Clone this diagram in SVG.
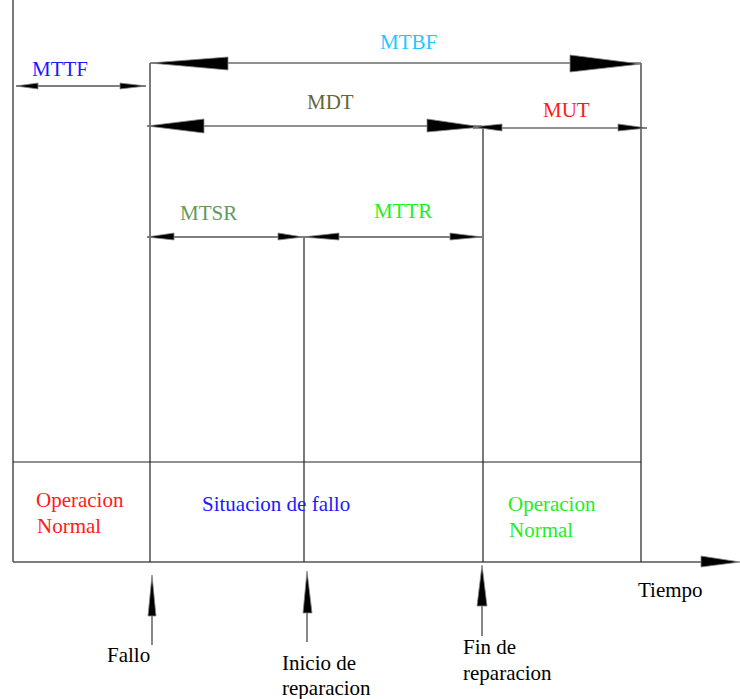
<svg xmlns="http://www.w3.org/2000/svg" width="740" height="699" viewBox="0 0 740 699">
<style>
.ln{stroke:#222;stroke-width:1.2;fill:none}
.gl{stroke:#555;stroke-width:1.4;fill:none}
.ah{fill:#000;stroke:#888;stroke-width:0.8}
</style>
<rect width="740" height="699" fill="#fff"/>
<g id="frame">
<line class="ln" x1="13" y1="0" x2="13" y2="562"/>
<line class="ln" x1="13" y1="462" x2="641" y2="462"/>
<line class="gl" x1="13" y1="562" x2="705" y2="562"/>
<polygon class="ah" points="740,562 701,556 701,567"/>
<line class="ln" x1="150" y1="63" x2="150" y2="562"/>
<line class="ln" x1="304" y1="237" x2="304" y2="562"/>
<line class="ln" x1="483" y1="127" x2="483" y2="562"/>
<line class="ln" x1="641" y1="63" x2="641" y2="562"/>
</g>
<g id="connectors">
<line class="ln" x1="150" y1="63" x2="641" y2="63"/>
<polygon class="ah" points="150,63 228,57 228,70"/>
<polygon class="ah" points="641,64 570,55 570,72"/>
<line class="gl" x1="16" y1="86" x2="146" y2="86"/>
<polygon class="ah" points="16,86 38,83 38,89"/>
<polygon class="ah" points="146,86 120,83 120,89"/>
<line class="ln" x1="147" y1="126" x2="482" y2="126"/>
<polygon class="ah" points="147,126 204,119 204,133"/>
<polygon class="ah" points="482,127 427,119 427,132"/>
<line class="ln" x1="473" y1="128" x2="647" y2="128"/>
<polygon class="ah" points="473,127 502,124 502,131"/>
<polygon class="ah" points="647,128 618,124 618,131"/>
<line class="gl" x1="147" y1="237" x2="303" y2="237"/>
<polygon class="ah" points="147,237 174,233 174,240"/>
<polygon class="ah" points="303,237 278,233 278,240"/>
<line class="gl" x1="303" y1="237" x2="482" y2="237"/>
<polygon class="ah" points="303,237 339,233 339,240"/>
<polygon class="ah" points="482,237 450,233 450,240"/>
<line class="gl" x1="152" y1="616" x2="152" y2="645"/>
<polygon class="ah" points="152,575 148,616 156,616"/>
<line class="gl" x1="307" y1="613" x2="307" y2="642"/>
<polygon class="ah" points="307,571 303,613 312,613"/>
<line class="gl" x1="482" y1="606" x2="482" y2="636"/>
<polygon class="ah" points="482,565 477,606 487,606"/>
</g>
<text x="32" y="76" font-family="Liberation Serif" font-size="21" fill="#1a1aff">MTTF</text>
<text x="380" y="49" font-family="Liberation Serif" font-size="21" fill="#1ec8ff">MTBF</text>
<text x="307" y="109" font-family="Liberation Serif" font-size="21" fill="#66663a">MDT</text>
<text x="543" y="117" font-family="Liberation Serif" font-size="21" fill="#ff1a1a">MUT</text>
<text x="180" y="220" font-family="Liberation Serif" font-size="21" fill="#5f9a5f">MTSR</text>
<text x="374" y="218" font-family="Liberation Serif" font-size="21" fill="#22ee22">MTTR</text>
<text x="36" y="507" font-family="Liberation Serif" font-size="21" fill="#ff1a1a">Operacion</text>
<text x="37" y="533" font-family="Liberation Serif" font-size="21" fill="#ff1a1a">Normal</text>
<text x="202" y="511" font-family="Liberation Serif" font-size="21" fill="#1a1aff">Situacion de fallo</text>
<text x="508" y="511" font-family="Liberation Serif" font-size="21" fill="#22ee22">Operacion</text>
<text x="509" y="537" font-family="Liberation Serif" font-size="21" fill="#22ee22">Normal</text>
<text x="107" y="662" font-family="Liberation Serif" font-size="21">Fallo</text>
<text x="282" y="670" font-family="Liberation Serif" font-size="21">Inicio de</text>
<text x="282" y="695" font-family="Liberation Serif" font-size="21">reparacion</text>
<text x="463" y="654" font-family="Liberation Serif" font-size="21">Fin de</text>
<text x="463" y="680" font-family="Liberation Serif" font-size="21">reparacion</text>
<text x="638" y="597" font-family="Liberation Serif" font-size="21">Tiempo</text>
</svg>
